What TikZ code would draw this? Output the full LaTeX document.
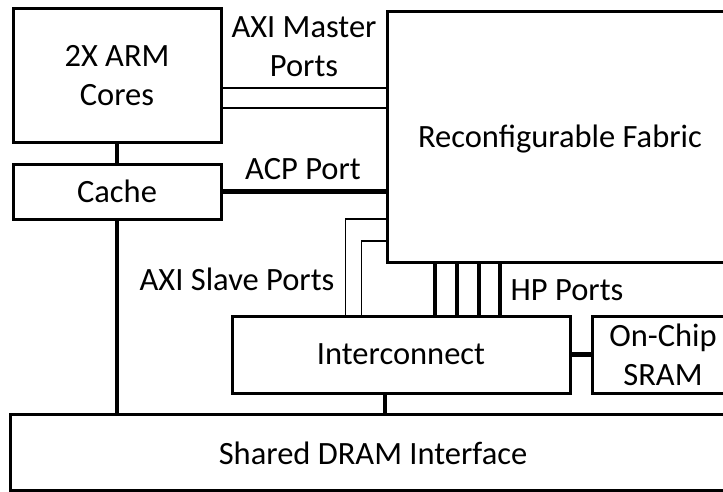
\documentclass[tikz,border=0pt]{standalone}
\usepackage{fontspec}
\setmainfont{Carlito}
\usetikzlibrary{positioning,calc}
\tikzset{
  blk/.style={draw=black,line width=3pt,fill=white,inner sep=0pt,align=center,
              text depth=0pt,font=\fontsize{32.5}{39}\selectfont},
  lbl/.style={inner sep=0pt,align=center,text depth=0pt,
              font=\fontsize{32.5}{39}\selectfont},
  bus/.style={line width=4.5pt},
  port/.style={line width=1.3pt}
}
\begin{document}
\begin{tikzpicture}[x=1pt,y=-1pt]
  \useasboundingbox (0,0) rectangle (723,491);
  \clip (0,0) rectangle (723,491);
  % blocks
  \node[blk,minimum width=208pt,minimum height=134pt] (arm) at (117,75) {2X ARM\\Cores};
  \node[blk,minimum width=208pt,minimum height=55pt] (cache) at (117,191.5) {Cache};
  \node[blk,minimum width=346pt,minimum height=251pt] (fabric) at (560,136.5) {Reconfigurable Fabric};
  \node[blk,minimum width=338pt,minimum height=77pt] (icon) at (401,354.5) {Interconnect};
  \node[blk,minimum width=142pt,minimum height=77pt] (sram) at (663,354.5) {On-Chip\\SRAM};
  \node[blk,minimum width=735pt,minimum height=76pt] (dram) at (377.5,452) {};
  \node[lbl] (dramtxt) at (373,453) {Shared DRAM Interface};
  % AXI master ports
  \coordinate (m1) at ([yshift=-13pt]arm.east);
  \coordinate (m2) at ([yshift=-33pt]arm.east);
  \draw[port] (m1) -- (m1 -| fabric.west);
  \draw[port] (m2) -- (m2 -| fabric.west);
  % AXI slave ports
  \coordinate (s1) at ([yshift=-82.5pt]fabric.west);
  \coordinate (s2) at ([yshift=-104.5pt]fabric.west);
  \draw[port] (s1) -| ([xshift=115pt]icon.north west);
  \draw[port] (s2) -| ([xshift=131pt]icon.north west);
  % buses
  \draw[bus] (arm) -- (cache);
  \draw[bus] (cache.south) -- (cache.south |- dram.north);
  \draw[bus] (cache.east) -- (cache.east -| fabric.west);
  \foreach \hx in {435,457,479,500}
    \draw[bus] (\hx,0 |- fabric.south) -- (\hx,0 |- icon.north);
  \draw[bus] (icon) -- (sram);
  \draw[bus] ([xshift=-16pt]icon.south) -- ([xshift=-16pt]icon.south |- dram.north);
  % labels
  \node[lbl] (axim) at (304,47) {AXI Master\\Ports};
  \node[lbl] (acp) at (303,169) {ACP Port};
  \node[lbl] (axis) at (237,279) {AXI Slave Ports};
  \node[lbl] (hp) at (567,290) {HP Ports};
\end{tikzpicture}
\end{document}
